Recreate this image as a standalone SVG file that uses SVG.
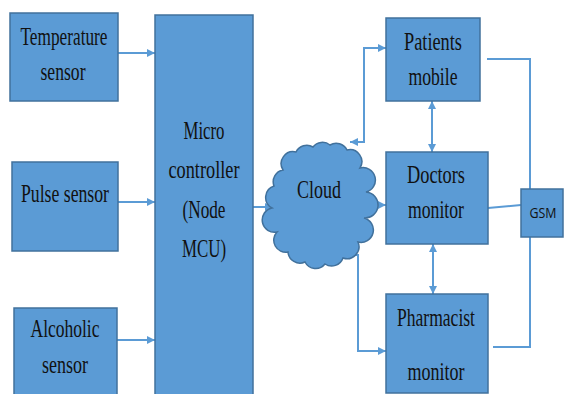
<svg xmlns="http://www.w3.org/2000/svg" width="565" height="394" viewBox="0 0 565 394">
<defs>
<style>
.box{fill:#5B9BD5;stroke:#41719C;stroke-width:1.5}
.t{font-family:"Liberation Serif","Times New Roman",serif;font-size:25px;fill:#111;text-anchor:middle}
.s{font-family:"Open Sans","Liberation Sans",Arial,sans-serif;font-size:14px;fill:#111;text-anchor:middle}
.c{fill:none;stroke:#5B9BD5;stroke-width:2}
</style>
<marker id="ah" viewBox="0 0 8 8" refX="8" refY="4" markerWidth="8" markerHeight="8" markerUnits="userSpaceOnUse" orient="auto-start-reverse">
<path d="M0,0 L8,4 L0,8 z" fill="#5B9BD5"/>
</marker>
</defs>
<rect width="565" height="394" fill="#fff"/>
<g id="connectors">
<path class="c" d="M118,53 H155" marker-end="url(#ah)"/>
<path class="c" d="M118,202 H155" marker-end="url(#ah)"/>
<path class="c" d="M117,340 H155" marker-end="url(#ah)"/>
<path class="c" d="M253,207 H273" marker-end="url(#ah)"/>
<path class="c" d="M350,142 H364 V48 H386" marker-start="url(#ah)" marker-end="url(#ah)"/>
<path class="c" d="M432,101 V152" marker-start="url(#ah)" marker-end="url(#ah)"/>
<path class="c" d="M367,205 H386" marker-end="url(#ah)"/>
<path class="c" d="M433,244 V294" marker-start="url(#ah)" marker-end="url(#ah)"/>
<path class="c" d="M337,255 H358 V351 H386" marker-start="url(#ah)" marker-end="url(#ah)"/>
<path class="c" d="M487,59 H530 V189"/>
<path class="c" d="M488,208 L521,205"/>
<path class="c" d="M493,347 H530 V237"/>
</g>
<g id="temperature">
<rect class="box" x="10" y="13" width="108" height="88"/>
<text class="t" x="64" y="45" textLength="87" lengthAdjust="spacingAndGlyphs">Temperature</text>
<text class="t" x="63" y="80" textLength="45" lengthAdjust="spacingAndGlyphs">sensor</text>
</g>
<g id="pulse">
<rect class="box" x="12" y="162" width="106" height="89"/>
<text class="t" x="65" y="202" textLength="88" lengthAdjust="spacingAndGlyphs">Pulse sensor</text>
</g>
<g id="alcoholic">
<rect class="box" x="14" y="308" width="103" height="92"/>
<text class="t" x="65" y="337" textLength="69" lengthAdjust="spacingAndGlyphs">Alcoholic</text>
<text class="t" x="65" y="373" textLength="46" lengthAdjust="spacingAndGlyphs">sensor</text>
</g>
<g id="mcu">
<rect class="box" x="155" y="15" width="98" height="390"/>
<text class="t" x="204" y="139" textLength="41" lengthAdjust="spacingAndGlyphs">Micro</text>
<text class="t" x="204" y="178" textLength="71" lengthAdjust="spacingAndGlyphs">controller</text>
<text class="t" x="204" y="218" textLength="43" lengthAdjust="spacingAndGlyphs">(Node</text>
<text class="t" x="204" y="257" textLength="44" lengthAdjust="spacingAndGlyphs">MCU)</text>
</g>
<g id="cloud">
<path fill="#5B9BD5" stroke="#41719C" stroke-width="1.5" d="M283,170 A12,12 0 0 1 296,152 A12,12 0 0 1 313,147 A12,12 0 0 1 330,145 A12,12 0 0 1 347,150 A12,12 0 0 1 360,168 A12,12 0 0 1 366,192 A12,12 0 0 1 364,218 A12,12 0 0 1 358,242 A12,12 0 0 1 343,258 A12,12 0 0 1 325,264 A12,12 0 0 1 305,262 A12,12 0 0 1 288,252 A12,12 0 0 1 277,232 A12,12 0 0 1 272,208 A12,12 0 0 1 274,186 A12,12 0 0 1 283,170 Z"/>
<text class="t" x="319" y="198" textLength="44" lengthAdjust="spacingAndGlyphs">Cloud</text>
</g>
<g id="patients">
<rect class="box" x="386" y="18" width="94" height="83"/>
<text class="t" x="433" y="50" textLength="58" lengthAdjust="spacingAndGlyphs">Patients</text>
<text class="t" x="433" y="85" textLength="49" lengthAdjust="spacingAndGlyphs">mobile</text>
</g>
<g id="doctors">
<rect class="box" x="386" y="152" width="102" height="92"/>
<text class="t" x="436" y="183" textLength="58" lengthAdjust="spacingAndGlyphs">Doctors</text>
<text class="t" x="436" y="218" textLength="56" lengthAdjust="spacingAndGlyphs">monitor</text>
</g>
<g id="pharmacist">
<rect class="box" x="386" y="294" width="102" height="99"/>
<text class="t" x="436" y="326" textLength="78" lengthAdjust="spacingAndGlyphs">Pharmacist</text>
<text class="t" x="436" y="380" textLength="57" lengthAdjust="spacingAndGlyphs">monitor</text>
</g>
<g id="gsm">
<rect class="box" x="521" y="189" width="42" height="48"/>
<text class="s" x="543" y="218" textLength="27" lengthAdjust="spacingAndGlyphs">GSM</text>
</g>
</svg>
